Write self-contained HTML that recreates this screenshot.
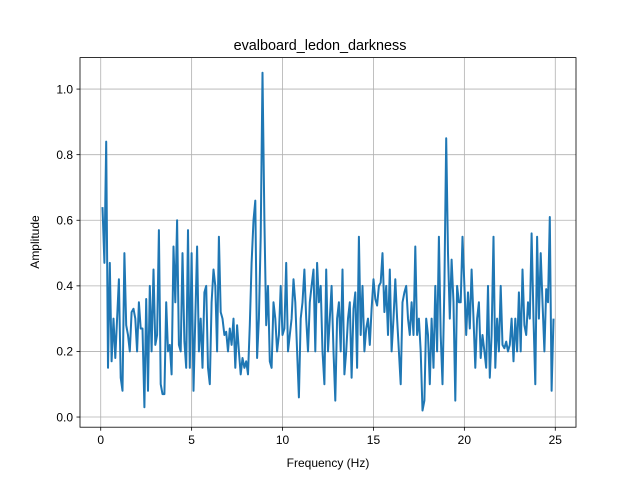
<!DOCTYPE html>
<html><head><meta charset="utf-8"><style>
body{margin:0;background:#fff}
svg text{font-family:"Liberation Sans","DejaVu Sans",sans-serif;fill:#000}
</style></head><body>
<svg id="chart" width="640" height="480" xmlns="http://www.w3.org/2000/svg">
<rect width="640" height="480" fill="#fff"/>
<g id="grid"></g>
<g id="ticks"></g>
<polyline id="line" fill="none" stroke="#1f77b4" stroke-width="2" stroke-linejoin="round"/>
<rect x="80" y="57.6" width="496" height="369.6" fill="none" stroke="#000" stroke-width="0.8"/>
<text x="320" y="50" font-size="14.4" text-anchor="middle">evalboard_ledon_darkness</text>
<text x="328" y="467" font-size="12" text-anchor="middle">Frequency (Hz)</text>
<text x="0" y="0" font-size="12" text-anchor="middle" transform="translate(39,242) rotate(-90)">Amplitude</text>
</svg>
<script>
const xTicks=[0,5,10,15,20,25];
const yTicks=[0.0,0.2,0.4,0.6,0.8,1.0];
const yTickLabels=["0.0","0.2","0.4","0.6","0.8","1.0"];
const freqStep=0.1;
const amplitudes=[0.64,0.47,0.84,0.15,0.47,0.17,0.3,0.18,0.3,0.42,0.12,0.08,0.5,0.28,0.25,0.2,0.32,0.33,0.3,0.2,
0.35,0.27,0.27,0.03,0.36,0.08,0.4,0.2,0.45,0.22,0.25,0.57,0.1,0.07,0.07,0.35,0.2,0.22,0.13,0.52,
0.35,0.6,0.22,0.2,0.5,0.23,0.15,0.57,0.15,0.5,0.08,0.3,0.52,0.2,0.3,0.15,0.38,0.4,0.15,0.1,
0.35,0.45,0.4,0.2,0.55,0.32,0.3,0.25,0.26,0.2,0.27,0.22,0.3,0.15,0.28,0.2,0.13,0.18,0.15,0.17,0.13,0.28,0.47,0.6,0.66,
0.18,0.3,0.55,1.05,0.6,0.28,0.4,0.17,0.15,0.35,0.3,0.2,0.25,0.4,0.25,0.27,0.47,0.2,0.25,0.3,
0.42,0.35,0.2,0.06,0.3,0.35,0.45,0.3,0.2,0.35,0.4,0.45,0.2,0.47,0.35,0.4,0.2,0.1,
0.45,0.2,0.3,0.4,0.2,0.05,0.3,0.35,0.2,0.45,0.13,0.2,0.3,0.35,0.12,0.33,0.38,0.15,0.55,
0.25,0.4,0.2,0.27,0.3,0.22,0.33,0.42,0.36,0.34,0.4,0.41,0.5,0.32,0.4,0.25,0.45,
0.2,0.3,0.42,0.3,0.2,0.1,0.35,0.38,0.4,0.3,0.25,0.35,0.25,0.52,0.25,0.3,0.2,0.02,0.05,0.3,
0.25,0.1,0.3,0.15,0.4,0.2,0.55,0.25,0.1,0.4,0.85,0.5,0.3,0.48,0.35,0.05,0.4,0.35,
0.35,0.55,0.4,0.25,0.38,0.27,0.45,0.3,0.15,0.3,0.35,0.18,0.25,0.2,0.15,0.4,0.12,0.25,0.55,0.15,
0.3,0.2,0.4,0.22,0.21,0.23,0.2,0.22,0.3,0.17,0.3,0.2,0.38,0.2,0.45,0.28,0.25,0.35,
0.3,0.56,0.3,0.1,0.55,0.3,0.5,0.35,0.2,0.39,0.35,0.61,0.08,0.3];
const X0=80,X1=576,Y0=57.6,Y1=427.2;
const n=amplitudes.length;
const freqs=amplitudes.map((a,i)=>freqStep*(i+1));
const fMin=freqs[0], fMax=freqs[n-1];
const xmin=fMin-(fMax-fMin)*0.05, xmax=fMax+(fMax-fMin)*0.05;
const ymin=-0.031, ymax=1.096;
const sx=v=>X0+(v-xmin)/(xmax-xmin)*(X1-X0);
const sy=v=>Y1-(v-ymin)/(ymax-ymin)*(Y1-Y0);
const NS="http://www.w3.org/2000/svg";
const grid=document.getElementById('grid'), ticks=document.getElementById('ticks');
function mk(t,a,p){const e=document.createElementNS(NS,t);for(const k in a)e.setAttribute(k,a[k]);p.appendChild(e);return e;}
xTicks.forEach(v=>{const x=sx(v);
 const g=mk('line',{x1:x,x2:x,y1:Y0,y2:Y1,stroke:'#b0b0b0','stroke-width':0.8},grid);
 
 
 const t=mk('line',{x1:x,x2:x,y1:Y1,y2:Y1+3.5,stroke:'#000','stroke-width':0.8},ticks);
 
 
 const l=mk('text',{x:x,y:Y1+17,'font-size':12,'text-anchor':'middle'},ticks);l.textContent=v;
 
 
});
yTicks.forEach((v,i)=>{const y=sy(v);
 const g=mk('line',{x1:X0,x2:X1,y1:y,y2:y,stroke:'#b0b0b0','stroke-width':0.8},grid);
 
 
 const t=mk('line',{x1:X0-3.5,x2:X0,y1:y,y2:y,stroke:'#000','stroke-width':0.8},ticks);
 
 
 const l=mk('text',{x:X0-7,y:y+4.3,'font-size':12,'text-anchor':'end'},ticks);l.textContent=yTickLabels[i];
 
 
});
document.getElementById('line').setAttribute('points',amplitudes.map((a,i)=>sx(freqs[i]).toFixed(1)+','+sy(a).toFixed(1)).join(' '));
</script>
</body></html>
